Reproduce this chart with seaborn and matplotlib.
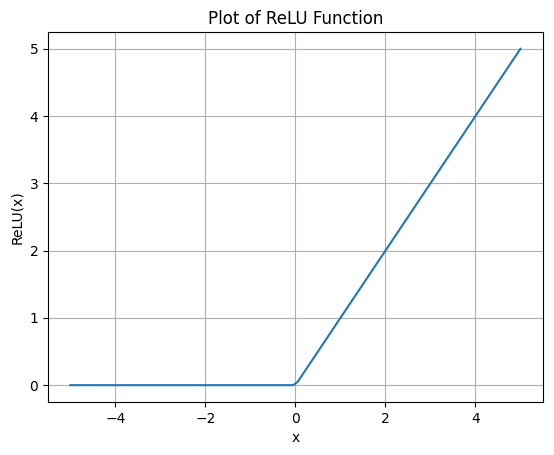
import numpy as np
import pandas as pd
import matplotlib
matplotlib.use("Agg")
import matplotlib.pyplot as plt
import seaborn as sns

# ==============================
# DATA
# ==============================

x_vals = [-5.0, -0.05, 0.05, 5.0]
relu_vals = [0.0, 0.0, 0.05, 5.0]

df = pd.DataFrame({"x": x_vals, "ReLU(x)": relu_vals})

# ==============================
# PLOT
# ==============================

fig = plt.figure(figsize=(5.54, 4.55), dpi=100)
ax = fig.add_subplot(111)
fig.subplots_adjust(left=0.0866, right=0.980, top=0.9297, bottom=0.1165)

sns.lineplot(data=df, x="x", y="ReLU(x)", ax=ax, color="#1f77b4", sort=False)

ax.set_title("Plot of ReLU Function")
ax.set_xlabel("x")
ax.set_ylabel("ReLU(x)")
ax.grid(True)

fig.savefig("out.png", dpi=100)
